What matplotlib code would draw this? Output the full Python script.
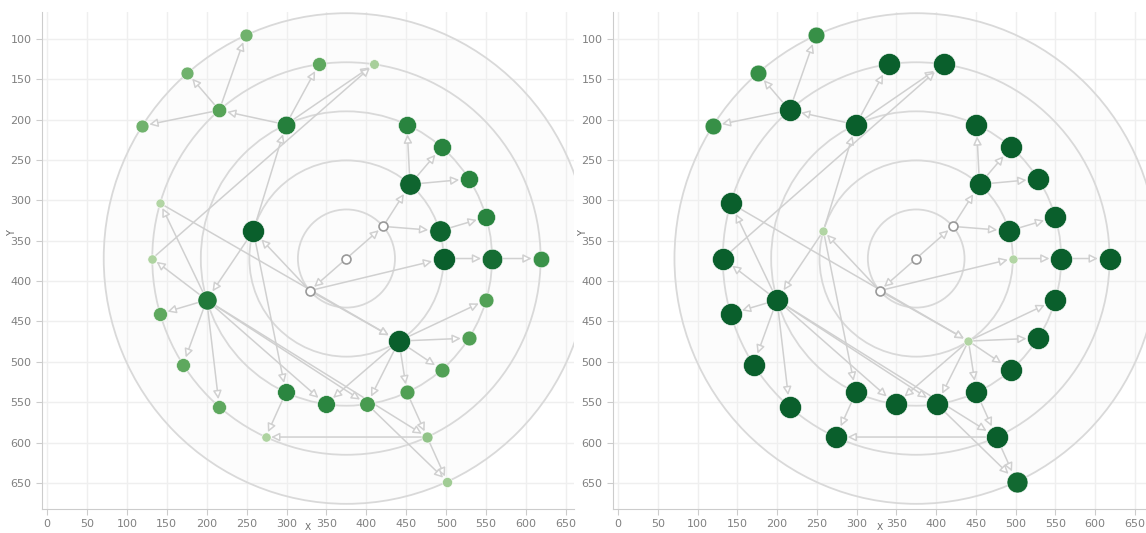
import numpy as np
import matplotlib
matplotlib.use("Agg")
import matplotlib.pyplot as plt
from matplotlib.colors import LinearSegmentedColormap
from matplotlib.patches import Circle, FancyArrowPatch

# radial layout: ring number and angular slot (22 slots per turn)
node_ring = [0, 1, 1, 2, 2, 2, 2, 2, 3, 3, 3, 3, 3, 3, 3, 3, 3, 3, 3, 3, 3, 3,
             4, 5, 5, 5, 4, 4, 4, 4, 4, 4, 4, 4, 4, 4, 5]
node_slot = [0, 2.5, 13.5, 10, 3, 1, 0, 18.5, 12, 7, 4, 3, 2, 1, 0, 21, 20, 19, 18, 17, 16, 15,
             8, 7, 8, 9, 10, 11, 6, 5, 0, 12, 13, 14, 15, 18, 18]

# directed edges (1-based node ids)
edges = [(1, 2), (1, 3), (2, 5), (2, 6), (3, 4), (3, 7), (3, 8),
         (4, 9), (4, 10), (4, 22), (5, 11), (5, 12), (5, 13), (6, 14), (7, 15),
         (8, 16), (8, 17), (8, 18), (8, 19), (8, 20), (8, 21),
         (9, 27), (9, 28), (9, 32), (9, 33), (9, 34),
         (10, 23), (10, 29), (10, 30), (15, 31), (22, 35), (19, 36),
         (23, 24), (23, 25), (23, 26), (36, 37),
         (27, 8), (28, 30), (36, 35), (9, 20), (9, 21), (9, 36), (20, 37)]

# node scores for the two panels (nan = no score, drawn hollow)
nan = np.nan
score_left = [nan, nan, nan, 1.0, 0.95, 0.95, 1.0, 1.0, 0.78, 0.74, 0.7, 0.7, 0.7, 0.7, 0.88,
              0.45, 0.45, 0.45, 0.45, 0.5, 0.68, 0.68,
              0.42, 0.3, 0.3, 0.3, 0.0, 0.02, 0.38, 0.05, 0.58, 0.38, 0.38, 0.38, 0.02, 0.15, 0.08]
score_right = [nan, nan, nan, 0.0, 1.0, 1.0, 0.0, 0.0, 1.0, 1.0, 1.0, 1.0, 1.0, 1.0, 1.0,
               1.0, 1.0, 1.0, 1.0, 1.0, 1.0, 1.0,
               1.0, 0.6, 0.6, 0.6, 1.0, 1.0, 1.0, 1.0, 1.0, 1.0, 1.0, 1.0, 1.0, 1.0, 0.92]

cx, cy, ring_step = 375, 372, 60.8
theta = np.radians(np.array(node_slot) * 360 / 22)
node_x = cx + ring_step * np.array(node_ring) * np.cos(theta)
node_y = cy - ring_step * np.array(node_ring) * np.sin(theta)

cmap = LinearSegmentedColormap.from_list(
    "grn", [(0, "#b2d5a4"), (0.4, "#5aa65a"), (0.65, "#2e8a42"), (1, "#0a5f2c")])


def radius_px(v):
    return 5.0 if np.isnan(v) else 4.5 + 6.5 * v


def draw_panel(ax, scores, xmax):
    ax.set_xlim(-6.3, xmax)
    ax.set_ylim(682.4, 66.5)
    ax.set_xticks(np.arange(0, 651, 50))
    ax.set_yticks(np.arange(100, 651, 50))
    ax.grid(color="#efefef", linewidth=1)
    ax.set_axisbelow(True)
    for s in ["top", "right"]:
        ax.spines[s].set_visible(False)
    for s in ["left", "bottom"]:
        ax.spines[s].set_color("#cccccc")
    ax.tick_params(colors="#cccccc", labelcolor="#808080", labelsize=8, length=4)
    ax.set_xlabel("X", fontsize=6.5, color="#666666")
    ax.set_ylabel("Y", fontsize=7, color="#666666")
    ax.xaxis.set_label_coords(0.5, -0.029)
    ax.yaxis.set_label_coords(-0.047, 0.555)

    ax.add_patch(Circle((cx, cy), ring_step * 5, facecolor="#fcfcfc", edgecolor="none", zorder=0.5))
    for k in range(1, 6):
        ax.add_patch(Circle((cx, cy), ring_step * k, fill=False, edgecolor="#d9d9d9",
                            linewidth=1.3, zorder=1))

    for a, b in edges:
        i, j = a - 1, b - 1
        arr = FancyArrowPatch((node_x[i], node_y[i]), (node_x[j], node_y[j]),
                              arrowstyle="-|>,head_length=0.5,head_width=0.25",
                              mutation_scale=10, facecolor="white", edgecolor="#d0d0d0",
                              linewidth=1.1, shrinkA=radius_px(scores[i]) * 0.72,
                              shrinkB=radius_px(scores[j]) * 0.72 + 0.5, zorder=2)
        ax.add_patch(arr)

    for i in range(len(node_x)):
        v = scores[i]
        r = radius_px(v)
        s = (2 * r * 0.72) ** 2
        if np.isnan(v):
            ax.scatter(node_x[i], node_y[i], s=s * 0.8, facecolor="white", edgecolor="#999999",
                       linewidth=1.2, zorder=3)
        else:
            ax.scatter(node_x[i], node_y[i], s=s, color=cmap(v), edgecolor="white",
                       linewidth=0.4, zorder=3)


fig = plt.figure(figsize=(11.46, 5.33), dpi=100)
ax_left = fig.add_axes([42 / 1146, 24 / 533, 532 / 1146, 497 / 533])
ax_right = fig.add_axes([613 / 1146, 24 / 533, 533 / 1146, 497 / 533])
draw_panel(ax_left, score_left, 660)
draw_panel(ax_right, score_right, 664)

fig.savefig("out.png", dpi=100)
